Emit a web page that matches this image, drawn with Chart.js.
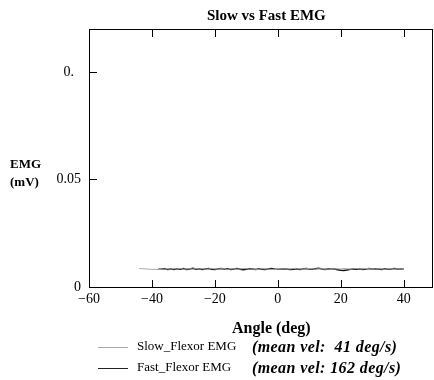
<!DOCTYPE html>
<html>
<head>
<meta charset="utf-8">
<script src="https://cdn.jsdelivr.net/npm/chart.js@4.4.0/dist/chart.umd.min.js"></script>
<style>
body { margin: 0; background: #fff; }
#wrap { position: relative; width: 434px; height: 380px; font-family: "Liberation Serif", serif; }
canvas { position: absolute; left: 0; top: 0; }
.lbl { position: absolute; color: #000; white-space: pre; line-height: 1; }
.b { font-weight: bold; }
.bi { font-weight: bold; font-style: italic; font-size: 16px; letter-spacing: 0.4px; }
.sw { position: absolute; height: 0; }
</style>
</head>
<body>
<div id="wrap">
<canvas id="emg" width="434" height="380"></canvas>
<div class="lbl b" style="left:207px;top:8px;font-size:15px">Slow vs Fast EMG</div>
<div class="lbl b" style="left:10px;top:155px;font-size:13px;line-height:18px">EMG<br>(mV)</div>
<div class="lbl b" style="left:232px;top:320px;font-size:16px">Angle (deg)</div>
<div class="sw" style="left:98px;top:347px;width:30px;border-top:1px solid #aaa"></div>
<div class="lbl" style="left:137px;top:339px;font-size:13px">Slow_Flexor EMG</div>
<div class="lbl bi" style="left:252px;top:339px">(mean vel:  41 deg/s)</div>
<div class="sw" style="left:98px;top:368px;width:30px;border-top:1.5px solid #222"></div>
<div class="lbl" style="left:137px;top:360px;font-size:13px">Fast_Flexor EMG</div>
<div class="lbl bi" style="left:252px;top:360px">(mean vel: 162 deg/s)</div>
</div>
<script>
/* DATOS */

const xTicks = [-60, -40, -20, 0, 20, 40];
const yTicks = [0, 0.05, 0.1];
const yTickLabels = ['0', '0.05', '0.\u2007'];

const slowAngle = [-44,-43,-42,-41,-40,-39,-38,-37,-36,-35,
-34,-33,-32,-31,-30,-29,-28,-27,-26,-25,
-24,-23,-22,-21,-20,-19,-18,-17,-16,-15,
-14,-13,-12,-11,-10,-9,-8,-7,-6,-5,
-4,-3,-2,-1,0,1,2,3,4,5,
6,7,8,9,10,11,12,13,14,15,
16,17,18,19,20,21,22,23,24,25,
26,27,28,29,30,31,32,33,34,35,
36,37,38,39,40];

const slowEmg = [0.0086,0.0085,0.0084,0.0083,0.0082,0.0082,0.0081,0.0082,0.0083,0.0084,
0.0083,0.0085,0.0084,0.0086,0.0083,0.0084,0.0085,0.0083,0.0086,0.0084,
0.0085,0.0083,0.0084,0.0086,0.0084,0.0083,0.0085,0.0084,0.0082,0.0084,
0.0085,0.0083,0.0084,0.0086,0.0085,0.0083,0.0084,0.0082,0.0083,0.0085,
0.0084,0.0083,0.0082,0.0081,0.0083,0.0084,0.0085,0.0083,0.0084,0.0086,
0.0085,0.0084,0.0083,0.0085,0.0086,0.0084,0.0083,0.0085,0.0084,0.0083,
0.0084,0.0082,0.0083,0.0085,0.0084,0.0086,0.0085,0.0083,0.0084,0.0086,
0.0085,0.0084,0.0086,0.0085,0.0083,0.0084,0.0085,0.0084,0.0083,0.0084,
0.0085,0.0084,0.0083,0.0084,0.0085];

const fastAngle = [-38,-37,-36,-35,-34,-33,-32,-31,-30,-29,
-28,-27,-26,-25,-24,-23,-22,-21,-20,-19,
-18,-17,-16,-15,-14,-13,-12,-11,-10,-9,
-8,-7,-6,-5,-4,-3,-2,-1,0,1,
2,3,4,5,6,7,8,9,10,11,
12,13,14,15,16,17,18,19,20,21,
22,23,24,25,26,27,28,29,30,31,
32,33,34,35,36,37,38,39,40];

const fastEmg = [0.0082,0.0083,0.0085,0.0082,0.0084,0.0081,0.0085,0.0083,0.0086,0.0082,
0.0084,0.0087,0.0083,0.0085,0.0082,0.0084,0.0086,0.0083,0.0081,0.0084,
0.0086,0.0083,0.0085,0.0082,0.0084,0.0086,0.0083,0.0080,0.0083,0.0085,
0.0084,0.0082,0.0085,0.0083,0.0081,0.0084,0.0086,0.0083,0.0082,0.0084,
0.0085,0.0083,0.0081,0.0083,0.0085,0.0082,0.0084,0.0086,0.0084,0.0083,
0.0085,0.0087,0.0084,0.0082,0.0085,0.0083,0.0084,0.0080,0.0078,0.0077,
0.0079,0.0082,0.0084,0.0083,0.0085,0.0082,0.0084,0.0086,0.0083,0.0085,
0.0084,0.0082,0.0085,0.0083,0.0084,0.0086,0.0083,0.0084,0.0085];

function puntos(xs, ys){
return xs.map(function(x, i){ return {x: x, y: ys[i]}; });
}

/* MARCO Y TICKS HACIA DENTRO */

const marco = {
id: 'marco',
afterDraw: function(chart){
const c = chart.ctx;
const a = chart.chartArea;
const sx = chart.scales.x;
const sy = chart.scales.y;
c.save();
c.strokeStyle = '#000';
c.lineWidth = 1;
c.strokeRect(Math.round(a.left) + 0.5, Math.round(a.top) + 0.5, Math.round(a.right - a.left) - 1, Math.round(a.bottom - a.top));
c.beginPath();
xTicks.forEach(function(v){
const px = Math.round(sx.getPixelForValue(v)) + 0.5;
c.moveTo(px, a.bottom); c.lineTo(px, a.bottom - 7);
c.moveTo(px, a.top); c.lineTo(px, a.top + 8);
});
yTicks.forEach(function(v){
const py = Math.round(sy.getPixelForValue(v)) + 0.5;
c.moveTo(a.left, py); c.lineTo(a.left + 8, py);
});
c.stroke();
c.restore();
}
};

/* GRAFICA */

const ctx = document.getElementById('emg');

new Chart(ctx, {
type: 'line',
data: {
datasets: [{
label: 'Slow_Flexor EMG',
data: puntos(slowAngle, slowEmg),
borderColor: '#a8a8a8',
borderWidth: 1,
pointRadius: 0,
tension: 0
}, {
label: 'Fast_Flexor EMG',
data: puntos(fastAngle, fastEmg),
borderColor: '#111',
borderWidth: 1.5,
pointRadius: 0,
tension: 0
}]
},
options: {
responsive: false,
animation: false,
layout: { padding: { left: 0, right: 1, top: 29, bottom: 0 } },
plugins: {
legend: { display: false },
tooltip: { enabled: false },
title: { display: false }
},
scales: {
x: {
type: 'linear',
min: -60,
max: 49.3,
grid: { display: false, drawTicks: false },
border: { display: false },
afterBuildTicks: function(s){ s.ticks = xTicks.map(function(v){ return {value: v}; }); },
afterFit: function(s){ s.height = 93; },
ticks: {
color: '#000',
maxRotation: 0,
padding: 4,
font: { family: 'Liberation Serif', size: 14 },
callback: function(v){ return v < 0 ? '\u2212' + Math.abs(v) : String(v); }
}
},
y: {
min: 0,
max: 0.12,
grid: { display: false, drawTicks: false },
border: { display: false },
afterBuildTicks: function(s){ s.ticks = yTicks.map(function(v){ return {value: v}; }); },
afterFit: function(s){ s.width = 89; },
ticks: {
color: '#000',
padding: 8,
font: { family: 'Liberation Serif', size: 14 },
callback: function(v, i){ return yTickLabels[i]; }
}
}
}
},
plugins: [marco]
});
</script>
</body>
</html>
